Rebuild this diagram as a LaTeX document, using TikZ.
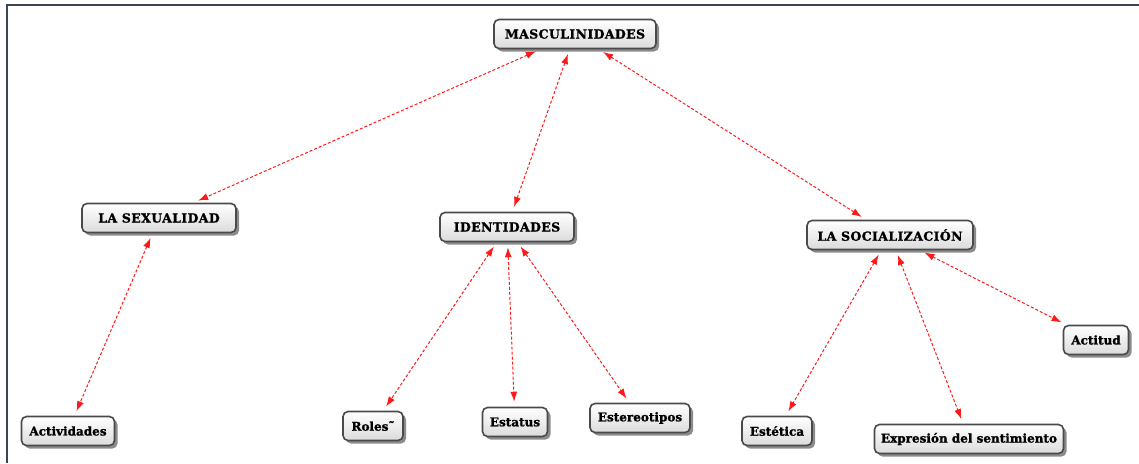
\documentclass[tikz,border=0pt]{standalone}
\usepackage{fontspec}
\setmainfont{DejaVu Serif}[BoldFeatures={FakeBold=1.3}]
\usetikzlibrary{arrows.meta,shadows}
\definecolor{framecol}{HTML}{3A4558}
\definecolor{boxborder}{HTML}{4A4A4A}
\definecolor{linkred}{HTML}{FF1A1A}
\tikzset{
  concept/.style={draw=boxborder, line width=1.6pt, rounded corners=5pt,
    top color=white, bottom color=black!14, minimum height=29pt, inner xsep=4pt,
    font=\fontsize{12}{14}\selectfont\bfseries,
    drop shadow={shadow xshift=3pt, shadow yshift=-3pt, opacity=0.45, fill=black}},
  capsconcept/.style={concept, font=\fontsize{12.5}{14}\selectfont\bfseries\addfontfeature{LetterSpace=3}},
  link/.style={draw=linkred, line width=1pt, dashed, dash pattern=on 3pt off 2pt,
    {Latex[length=10pt,width=7pt]}-{Latex[length=10pt,width=7pt]},
    shorten <=5pt, shorten >=5pt}
}
\begin{document}
\begin{tikzpicture}[x=1pt,y=-1pt]
\useasboundingbox (0,0) rectangle (1139,463);
\fill[white] (0,0) rectangle (1139,463);
\draw[framecol, line width=2pt] (7,463) -- (7,5) -- (1139,5);
\node[capsconcept, minimum width=162pt] (masc) at (575,34) {MASCULINIDADES};
\node[capsconcept, minimum width=154pt] (sex) at (159,218) {LA SEXUALIDAD};
\node[capsconcept, minimum width=134pt] (ident) at (507,227) {IDENTIDADES};
\node[capsconcept, minimum width=166pt] (soc) at (890,235) {LA SOCIALIZACIÓN};
\node[concept, minimum width=93pt] (activ) at (68,431) {Actividades};
\node[concept, minimum width=60pt] (roles) at (373,426) {Roles˜};
\node[concept, minimum width=65pt] (estatus) at (515,422) {Estatus};
\node[concept, minimum width=100pt] (ester) at (640,418) {Estereotipos};
\node[concept, minimum width=70pt] (estet) at (777,431) {Estética};
\node[concept, minimum width=189pt] (expr) at (969,439) {Expresión del sentimiento};
\node[concept, minimum width=65pt] (actit) at (1096,340) {Actitud};
\draw[link] (masc) -- (sex);
\draw[link] (masc) -- (ident);
\draw[link] (masc) -- (soc);
\draw[link] (sex) -- (activ);
\draw[link] (ident) -- (roles);
\draw[link] (ident) -- (estatus);
\draw[link] (ident) -- (ester);
\draw[link] (soc) -- (estet);
\draw[link] (soc) -- (expr);
\draw[link] (soc) -- (actit);
\end{tikzpicture}
\end{document}
